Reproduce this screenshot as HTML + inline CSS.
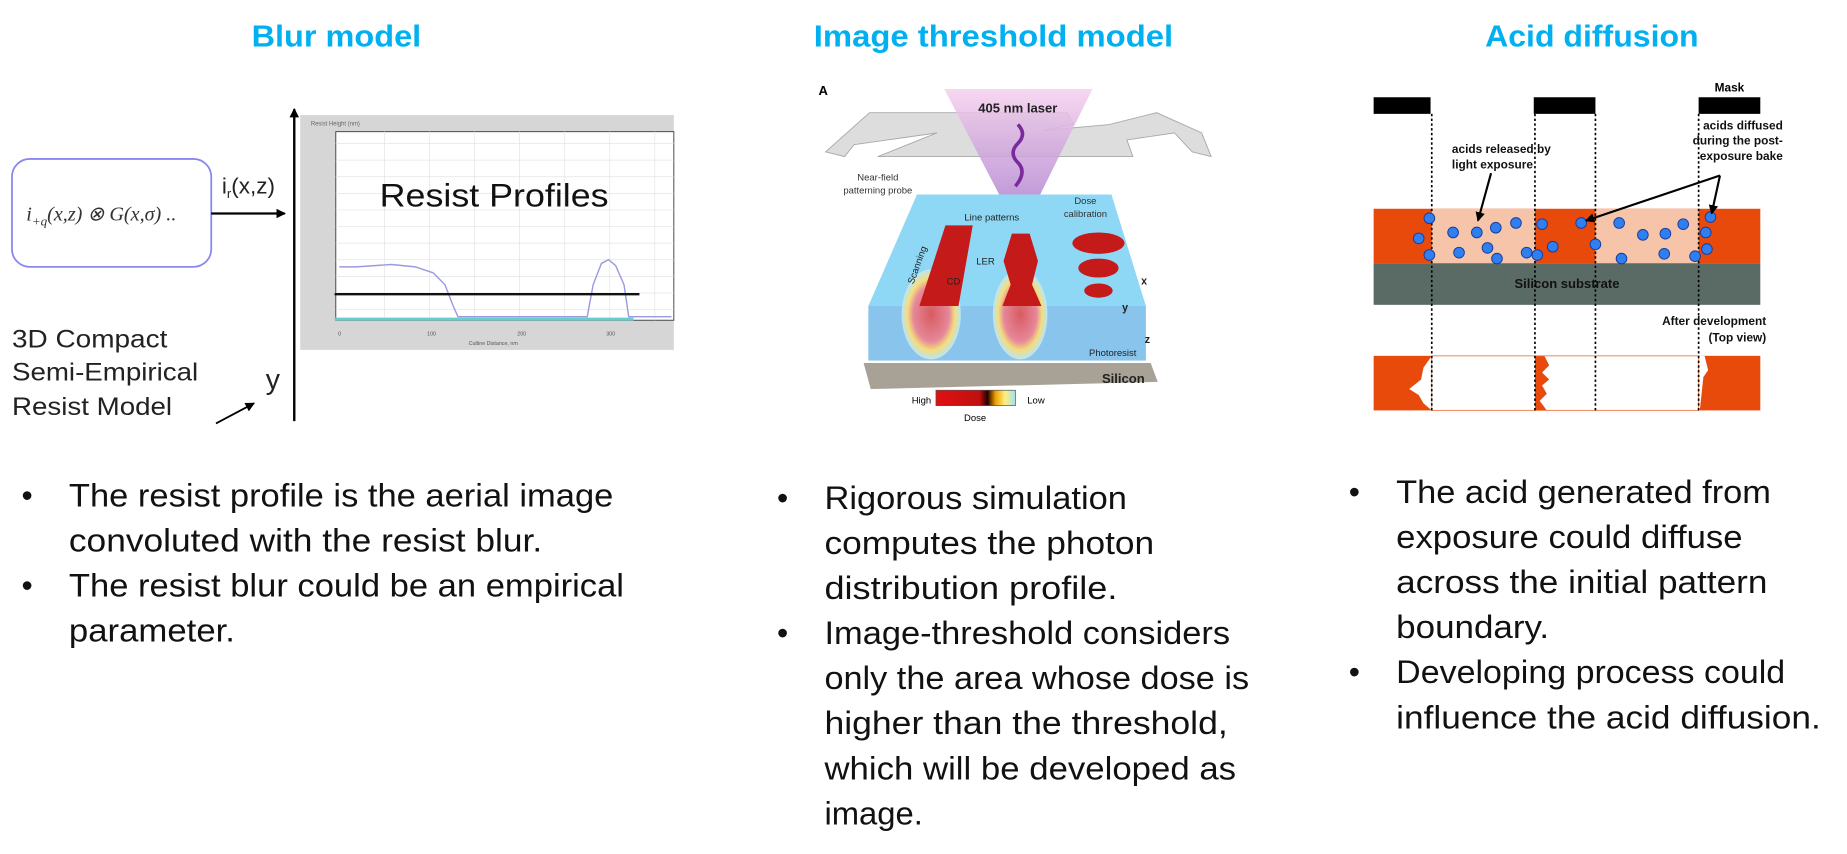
<!DOCTYPE html>
<html><head><meta charset="utf-8"><style>
html,body{margin:0;padding:0;background:#fff;}
svg{display:block;}
.t{font-family:"Liberation Sans",sans-serif;}
</style></head><body>
<svg width="1847" height="854" viewBox="0 0 1557 720" xmlns="http://www.w3.org/2000/svg" class="t">
<defs>
<marker id="ah" markerWidth="8" markerHeight="8" refX="7" refY="4" orient="auto" markerUnits="userSpaceOnUse"><path d="M0,0 L8,4 L0,8z" fill="#000"/></marker>
<linearGradient id="cb" x1="0" x2="1"><stop offset="0" stop-color="#e01010"/><stop offset="0.55" stop-color="#c01010"/><stop offset="0.65" stop-color="#200"/><stop offset="0.75" stop-color="#f0a000"/><stop offset="0.87" stop-color="#fff080"/><stop offset="1" stop-color="#a0e0f0"/></linearGradient>
<linearGradient id="cone" x1="0" y1="0" x2="0" y2="1"><stop offset="0" stop-color="#f5d0ee"/><stop offset="1" stop-color="#a070c8"/></linearGradient>
<radialGradient id="well"><stop offset="0" stop-color="#e05050"/><stop offset="0.6" stop-color="#f08090"/><stop offset="0.8" stop-color="#ffe070"/><stop offset="1" stop-color="#bfe8f5"/></radialGradient>
</defs>

<!-- Titles -->
<g font-weight="bold" fill="#00B0F0" font-size="26">
<text x="212" y="39" textLength="143" lengthAdjust="spacingAndGlyphs">Blur model</text>
<text x="686" y="39" textLength="303" lengthAdjust="spacingAndGlyphs">Image threshold model</text>
<text x="1252" y="39" textLength="180" lengthAdjust="spacingAndGlyphs">Acid diffusion</text>
</g>

<!-- Blur model -->
<rect x="10" y="134" width="168" height="91" rx="15" fill="#fff" stroke="#8888ee" stroke-width="1.5"/>
<text x="22" y="186" font-family="Liberation Serif,serif" font-style="italic" font-size="17" fill="#333">i<tspan font-size="11" dy="4">+q</tspan><tspan dy="-4">(x,z) ⊗ G(x,σ) ..</tspan></text>
<line x1="178" y1="180" x2="240" y2="180" stroke="#000" stroke-width="2" marker-end="url(#ah)"/>
<text x="187" y="163" font-size="19" fill="#222">i<tspan font-size="11" dy="4">r</tspan><tspan dy="-4">(x,z)</tspan></text>
<line x1="248" y1="355" x2="248" y2="92" stroke="#000" stroke-width="2" marker-end="url(#ah)"/>
<rect x="253" y="97" width="315" height="198" fill="#d6d6d6"/>
<text x="262" y="106" font-size="5" fill="#666">Resist Height (nm)</text>
<rect x="283" y="111" width="285" height="159" fill="#fff" stroke="#444" stroke-width="0.8"/>
<g stroke="#e4e4e4" stroke-width="0.6">
<line x1="283" y1="121" x2="568" y2="121"/><line x1="283" y1="135" x2="568" y2="135"/><line x1="283" y1="149" x2="568" y2="149"/><line x1="283" y1="163" x2="568" y2="163"/><line x1="283" y1="177" x2="568" y2="177"/><line x1="283" y1="191" x2="568" y2="191"/><line x1="283" y1="205" x2="568" y2="205"/><line x1="283" y1="219" x2="568" y2="219"/><line x1="283" y1="233" x2="568" y2="233"/><line x1="283" y1="247" x2="568" y2="247"/><line x1="283" y1="261" x2="568" y2="261"/>
<line x1="324" y1="111" x2="324" y2="270"/><line x1="362" y1="111" x2="362" y2="270"/><line x1="400" y1="111" x2="400" y2="270"/><line x1="438" y1="111" x2="438" y2="270"/><line x1="476" y1="111" x2="476" y2="270"/><line x1="514" y1="111" x2="514" y2="270"/><line x1="552" y1="111" x2="552" y2="270"/>
</g>
<text x="320" y="174" font-size="27" fill="#111" textLength="193" lengthAdjust="spacingAndGlyphs">Resist Profiles</text>
<path d="M286,225 L300,225 L330,223 L350,225 L365,230 L375,240 L382,258 L386,267 L495,267 L500,240 L507,222 L513,219 L519,224 L526,240 L530,267 L566,267" fill="none" stroke="#9a9ae0" stroke-width="1.2"/>
<line x1="282" y1="248" x2="539" y2="248" stroke="#111" stroke-width="2"/>
<line x1="282" y1="269" x2="534" y2="269" stroke="#6cc" stroke-width="2.5"/>
<g font-size="4.5" fill="#555"><text x="285" y="283">0</text><text x="360" y="283">100</text><text x="436" y="283">200</text><text x="511" y="283">300</text><text x="395" y="291">Cutline Distance, nm</text></g>
<g font-size="21" fill="#222"><text x="10" y="293" textLength="131" lengthAdjust="spacingAndGlyphs">3D Compact</text><text x="10" y="321" textLength="157" lengthAdjust="spacingAndGlyphs">Semi-Empirical</text><text x="10" y="350" textLength="135" lengthAdjust="spacingAndGlyphs">Resist Model</text></g>
<text x="224" y="328" font-size="24" fill="#222">y</text>
<line x1="182" y1="357" x2="214" y2="340" stroke="#000" stroke-width="1.5" marker-end="url(#ah)"/>

<!-- Image threshold illustration -->
<text x="690" y="80" font-size="11" font-weight="bold">A</text>
<path d="M696,128 L733,95 L900,95 L905,105 L880,110 L935,105 L975,95 L1013,112 L1021,132 L1005,128 L990,112 L950,118 L955,132 L740,132 L790,112 L720,122 L712,132z" fill="#ddd" stroke="#aaa" stroke-width="0.8"/>
<path d="M796,75 L921,75 L860,198z" fill="url(#cone)" opacity="0.85"/>
<path d="M858,105 q8,8 0,16 q-8,8 0,16 q8,8 -2,20" stroke="#7a2a9a" stroke-width="3" fill="none"/>
<text x="858" y="95" font-size="11" font-weight="bold" text-anchor="middle" fill="#222">405 nm laser</text>
<text x="740" y="152" font-size="8" text-anchor="middle" fill="#333">Near-field</text>
<text x="740" y="163" font-size="8" text-anchor="middle" fill="#333">patterning probe</text>
<path d="M728,306 L970,306 L976,322 L734,328z" fill="#a8a296"/>
<text x="965" y="323" font-size="11" font-weight="bold" text-anchor="end" fill="#222">Silicon</text>
<path d="M773,164 L937,164 L966,258 L732,258z" fill="#8fd8f5"/>
<rect x="732" y="258" width="234" height="46" fill="#88c4ec"/>
<ellipse cx="785" cy="265" rx="25" ry="38" fill="url(#well)" opacity="0.9"/>
<ellipse cx="860" cy="265" rx="23" ry="38" fill="url(#well)" opacity="0.9"/>
<path d="M775,258 L797,190 L820,190 L808,258z" fill="#c41a1a"/>
<path d="M853,197 L868,197 L875,220 L870,240 L878,258 L845,258 L852,240 L846,220z" fill="#c41a1a"/>
<ellipse cx="926" cy="205" rx="22" ry="9" fill="#c41a1a"/>
<ellipse cx="926" cy="226" rx="17" ry="8" fill="#c41a1a"/>
<ellipse cx="926" cy="245" rx="12" ry="6" fill="#c41a1a"/>
<text x="915" y="172" font-size="8" text-anchor="middle" fill="#333">Dose</text>
<text x="915" y="183" font-size="8" text-anchor="middle" fill="#333">calibration</text>
<text x="813" y="186" font-size="8" fill="#222">Line patterns</text>
<text x="823" y="223" font-size="8" fill="#222">LER</text>
<text x="798" y="240" font-size="8" fill="#222">CD</text>
<text x="770" y="240" font-size="8" fill="#222" transform="rotate(-70 770 240)">Scanning</text>
<text x="958" y="300" font-size="8" text-anchor="end" fill="#222">Photoresist</text>
<g font-size="9" font-weight="bold" fill="#222"><text x="962" y="240">x</text><text x="946" y="262">y</text><text x="965" y="289">z</text></g>
<rect x="789" y="329" width="67" height="13" fill="url(#cb)" stroke="#555" stroke-width="0.6"/>
<text x="785" y="340" font-size="8" text-anchor="end">High</text>
<text x="866" y="340" font-size="8">Low</text>
<text x="822" y="355" font-size="8" text-anchor="middle">Dose</text>

<!-- Acid diffusion -->
<rect x="1158" y="82" width="48" height="14" fill="#000"/>
<rect x="1293" y="82" width="52" height="14" fill="#000"/>
<rect x="1432" y="82" width="52" height="14" fill="#000"/>
<text x="1458" y="77" font-size="10" font-weight="bold" text-anchor="middle">Mask</text>
<rect x="1158" y="176" width="326" height="46" fill="#e84a0c"/>
<rect x="1207" y="176" width="87" height="46" fill="#f6c4a8"/>
<rect x="1345" y="176" width="87" height="46" fill="#f6c4a8"/>
<rect x="1158" y="222" width="326" height="35" fill="#5a6b66"/>
<text x="1321" y="243" font-size="11" font-weight="bold" text-anchor="middle" fill="#111">Silicon substrate</text>
<rect x="1158" y="300" width="326" height="46" fill="#e84a0c"/>
<path d="M1207,300 L1294,300 L1294,346 L1207,346 L1200,340 L1196,333 L1188,328 L1198,320 L1200,310z" fill="#fff"/>
<path d="M1302,300 L1345,300 L1345,346 L1304,346 L1298,338 L1304,332 L1300,325 L1306,320 L1300,314 L1306,308z" fill="#fff"/>
<path d="M1345,300 L1437,300 L1440,312 L1436,318 L1433,346 L1345,346z" fill="#fff"/>
<rect x="1207" y="300" width="225" height="46" fill="none" stroke="#f08050" stroke-width="0.8"/>
<g stroke="#000" stroke-width="1.4" stroke-dasharray="2,2">
<line x1="1207" y1="96" x2="1207" y2="346"/><line x1="1294" y1="96" x2="1294" y2="346"/>
<line x1="1345" y1="96" x2="1345" y2="346"/><line x1="1432" y1="96" x2="1432" y2="346"/>
</g>
<g fill="#2f7ff0" stroke="#1a3a9a" stroke-width="0.8">
<circle cx="1205" cy="184" r="4.5"/><circle cx="1196" cy="201" r="4.5"/><circle cx="1205" cy="215" r="4.5"/>
<circle cx="1225" cy="196" r="4.5"/><circle cx="1245" cy="196" r="4.5"/><circle cx="1261" cy="192" r="4.5"/><circle cx="1278" cy="188" r="4.5"/>
<circle cx="1230" cy="213" r="4.5"/><circle cx="1254" cy="209" r="4.5"/><circle cx="1262" cy="218" r="4.5"/><circle cx="1287" cy="213" r="4.5"/>
<circle cx="1300" cy="189" r="4.5"/><circle cx="1296" cy="215" r="4.5"/><circle cx="1309" cy="208" r="4.5"/>
<circle cx="1333" cy="188" r="4.5"/><circle cx="1345" cy="206" r="4.5"/><circle cx="1365" cy="188" r="4.5"/><circle cx="1385" cy="198" r="4.5"/>
<circle cx="1367" cy="218" r="4.5"/><circle cx="1404" cy="197" r="4.5"/><circle cx="1419" cy="189" r="4.5"/><circle cx="1403" cy="214" r="4.5"/><circle cx="1429" cy="216" r="4.5"/>
<circle cx="1442" cy="183" r="4.5"/><circle cx="1438" cy="196" r="4.5"/><circle cx="1439" cy="210" r="4.5"/>
</g>
<g font-size="10" font-weight="bold" fill="#111">
<text x="1224" y="129">acids released by</text><text x="1224" y="142">light exposure</text>
<text x="1503" y="109" text-anchor="end">acids diffused</text>
<text x="1503" y="122" text-anchor="end">during the post-</text>
<text x="1503" y="135" text-anchor="end">exposure bake</text>
<text x="1489" y="274" text-anchor="end">After development</text>
<text x="1489" y="288" text-anchor="end">(Top view)</text>
</g>
<g stroke="#000" stroke-width="1.8" fill="none">
<line x1="1257" y1="146" x2="1246" y2="186" marker-end="url(#ah)"/>
<line x1="1450" y1="148" x2="1337" y2="186" marker-end="url(#ah)"/>
<line x1="1450" y1="148" x2="1443" y2="180" marker-end="url(#ah)"/>
</g>

<!-- Bullets -->
<g font-size="27" fill="#111" lengthAdjust="spacingAndGlyphs">
<text x="18" y="427">•</text><text x="58" y="427" textLength="459" lengthAdjust="spacingAndGlyphs">The resist profile is the aerial image</text>
<text x="58" y="465" textLength="399" lengthAdjust="spacingAndGlyphs">convoluted with the resist blur.</text>
<text x="18" y="503">•</text><text x="58" y="503" textLength="468" lengthAdjust="spacingAndGlyphs">The resist blur could be an empirical</text>
<text x="58" y="541" textLength="140" lengthAdjust="spacingAndGlyphs">parameter.</text>

<text x="655" y="429">•</text><text x="695" y="429" textLength="255" lengthAdjust="spacingAndGlyphs">Rigorous simulation</text>
<text x="695" y="467" textLength="278" lengthAdjust="spacingAndGlyphs">computes the photon</text>
<text x="695" y="505" textLength="247" lengthAdjust="spacingAndGlyphs">distribution profile.</text>
<text x="655" y="543">•</text><text x="695" y="543" textLength="342" lengthAdjust="spacingAndGlyphs">Image-threshold considers</text>
<text x="695" y="581" textLength="358" lengthAdjust="spacingAndGlyphs">only the area whose dose is</text>
<text x="695" y="619" textLength="340" lengthAdjust="spacingAndGlyphs">higher than the threshold,</text>
<text x="695" y="657" textLength="347" lengthAdjust="spacingAndGlyphs">which will be developed as</text>
<text x="695" y="695" textLength="83" lengthAdjust="spacingAndGlyphs">image.</text>

<text x="1137" y="424">•</text><text x="1177" y="424" textLength="316" lengthAdjust="spacingAndGlyphs">The acid generated from</text>
<text x="1177" y="462" textLength="292" lengthAdjust="spacingAndGlyphs">exposure could diffuse</text>
<text x="1177" y="500" textLength="313" lengthAdjust="spacingAndGlyphs">across the initial pattern</text>
<text x="1177" y="538" textLength="129" lengthAdjust="spacingAndGlyphs">boundary.</text>
<text x="1137" y="576">•</text><text x="1177" y="576" textLength="328" lengthAdjust="spacingAndGlyphs">Developing process could</text>
<text x="1177" y="614" textLength="358" lengthAdjust="spacingAndGlyphs">influence the acid diffusion.</text>
</g>
</svg>
</body></html>
